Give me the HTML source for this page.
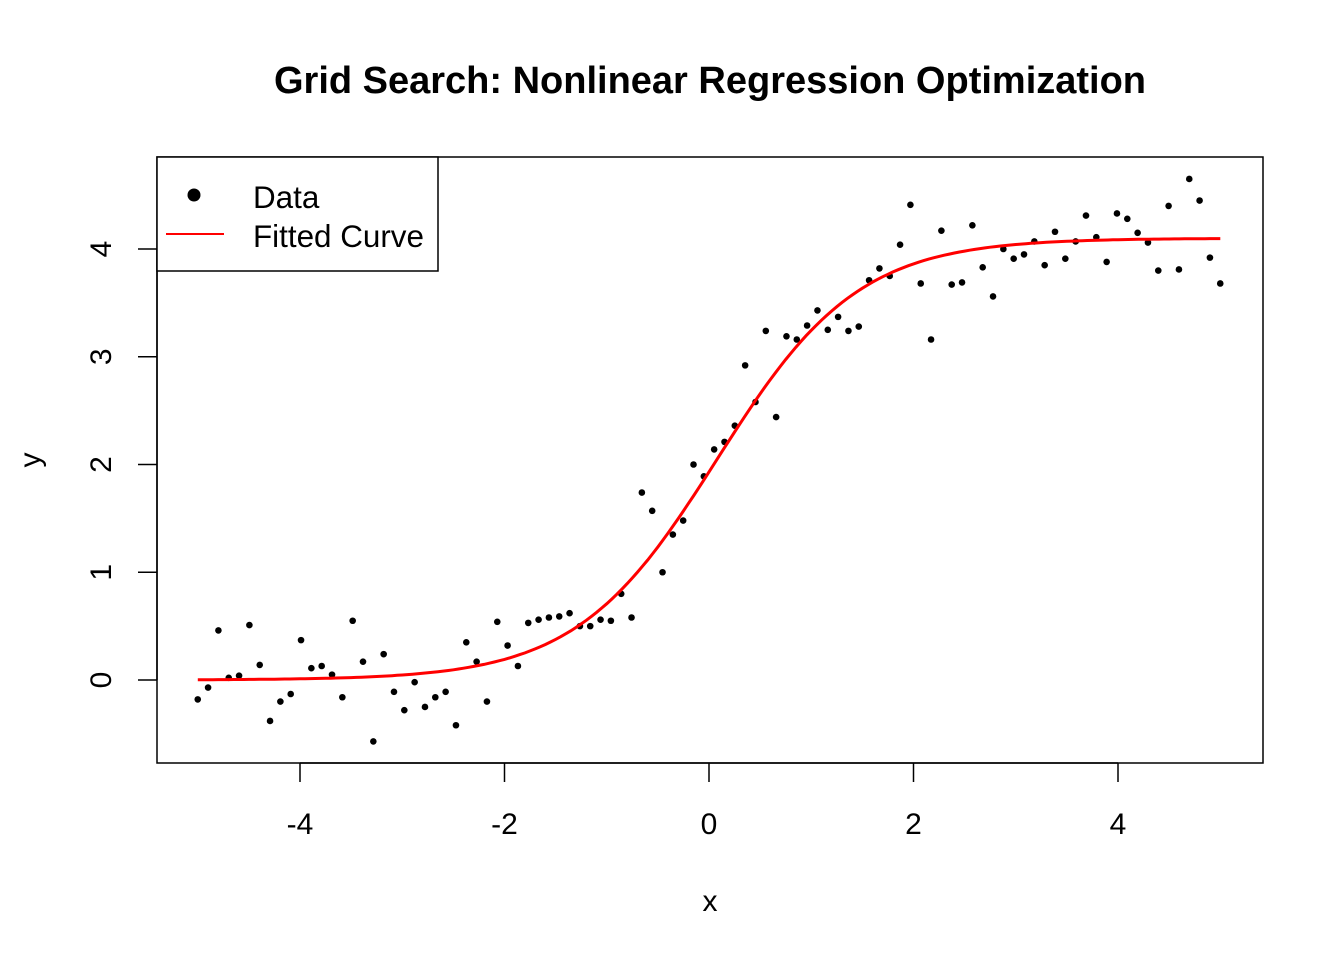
<!DOCTYPE html>
<html><head><meta charset="utf-8"><style>
html,body{margin:0;padding:0;background:#fff;}
svg{display:block;font-family:"Liberation Sans",Arial,sans-serif;}
</style></head><body>
<svg id="chart" width="1344" height="960" viewBox="0 0 1344 960">
<rect width="1344" height="960" fill="#fff"/>
<text x="710" y="93" text-anchor="middle" font-size="38" font-weight="bold">Grid Search: Nonlinear Regression Optimization</text>
<rect x="157" y="157" width="1106" height="606" fill="none" stroke="#000" stroke-width="1.5"/>
<g id="xaxis"></g>
<g id="yaxis"></g>
<text x="710" y="911" text-anchor="middle" font-size="30">x</text>
<text transform="translate(40,460) rotate(-90)" text-anchor="middle" font-size="30">y</text>
<g id="points"></g>
<path id="fit" fill="none" stroke="#ff0000" stroke-width="3"/>
<g>
<rect x="157" y="157" width="281" height="114" fill="#fff" stroke="#000" stroke-width="1.5"/>
<circle cx="194" cy="195" r="6.5" fill="#000"/>
<text x="253" y="208" font-size="31.4">Data</text>
<line x1="166" y1="234" x2="224" y2="234" stroke="#ff0000" stroke-width="2"/>
<text x="253" y="247" font-size="31.4">Fitted Curve</text>
</g>
</svg>
<script>
const yValues=[-0.18,-0.07,0.46,0.02,0.04,0.51,0.14,-0.38,-0.20,-0.13,0.37,0.11,0.13,0.05,-0.16,0.55,0.17,-0.57,0.24,-0.11,-0.28,-0.02,-0.25,-0.16,-0.11,-0.42,0.35,0.17,-0.20,0.54,0.32,0.13,0.53,0.56,0.58,0.59,0.62,0.50,0.50,0.56,0.55,0.80,0.58,1.74,1.57,1.00,1.35,1.48,2.00,1.89,2.14,2.21,2.36,2.92,2.58,3.24,2.44,3.19,3.16,3.29,3.43,3.25,3.37,3.24,3.28,3.71,3.82,3.75,4.04,4.41,3.68,3.16,4.17,3.67,3.69,4.22,3.83,3.56,4.00,3.91,3.95,4.07,3.85,4.16,3.91,4.07,4.31,4.11,3.88,4.33,4.28,4.15,4.06,3.80,4.40,3.81,4.65,4.45,3.92,3.68];
const xMin=-5, xMax=5;
const fitA=4.1, fitK=1.45, fitX0=0.08;
const xTicks=[-4,-2,0,2,4];
const yTicks=[0,1,2,3,4];
const NS="http://www.w3.org/2000/svg";
function sx(x){return 709+(x)*102.25;}
function sy(y){return 680-y*107.75;}
const pts=document.getElementById('points');
yValues.forEach((v,i)=>{
  const x=xMin+(xMax-xMin)*i/(yValues.length-1);
  const c=document.createElementNS(NS,'circle');
  c.setAttribute('cx',sx(x));c.setAttribute('cy',sy(v));c.setAttribute('r',3.3);c.setAttribute('fill','#000');
  
  
  pts.appendChild(c);
});
let d='';
for(let i=0;i<=200;i++){const x=xMin+(xMax-xMin)*i/200;const y=fitA/(1+Math.exp(-fitK*(x-fitX0)));d+=(i?'L':'M')+sx(x).toFixed(1)+','+sy(y).toFixed(1);}
document.getElementById('fit').setAttribute('d',d);
const xa=document.getElementById('xaxis');
let ln=document.createElementNS(NS,'line');
ln.setAttribute('x1',sx(xTicks[0]));ln.setAttribute('x2',sx(xTicks[xTicks.length-1]));ln.setAttribute('y1',763);ln.setAttribute('y2',763);ln.setAttribute('stroke','#000');ln.setAttribute('stroke-width',1.5);


xa.appendChild(ln);
xTicks.forEach(t=>{
  const l=document.createElementNS(NS,'line');
  l.setAttribute('x1',sx(t));l.setAttribute('x2',sx(t));l.setAttribute('y1',763);l.setAttribute('y2',782);l.setAttribute('stroke','#000');l.setAttribute('stroke-width',1.5);
  
  
  xa.appendChild(l);
  const tx=document.createElementNS(NS,'text');
  tx.setAttribute('x',sx(t));tx.setAttribute('y',834);tx.setAttribute('text-anchor','middle');tx.setAttribute('font-size','30');
  tx.textContent=String(t);
  
  
  xa.appendChild(tx);
});
const ya=document.getElementById('yaxis');
ln=document.createElementNS(NS,'line');
ln.setAttribute('x1',157);ln.setAttribute('x2',157);ln.setAttribute('y1',sy(yTicks[0]));ln.setAttribute('y2',sy(yTicks[yTicks.length-1]));ln.setAttribute('stroke','#000');ln.setAttribute('stroke-width',1.5);


ya.appendChild(ln);
yTicks.forEach(t=>{
  const l=document.createElementNS(NS,'line');
  l.setAttribute('x1',138);l.setAttribute('x2',157);l.setAttribute('y1',sy(t));l.setAttribute('y2',sy(t));l.setAttribute('stroke','#000');l.setAttribute('stroke-width',1.5);
  
  
  ya.appendChild(l);
  const tx=document.createElementNS(NS,'text');
  tx.setAttribute('transform','translate(111,'+sy(t)+') rotate(-90)');tx.setAttribute('text-anchor','middle');tx.setAttribute('font-size','30');
  tx.textContent=String(t);
  
  
  ya.appendChild(tx);
});
</script>
</body></html>
